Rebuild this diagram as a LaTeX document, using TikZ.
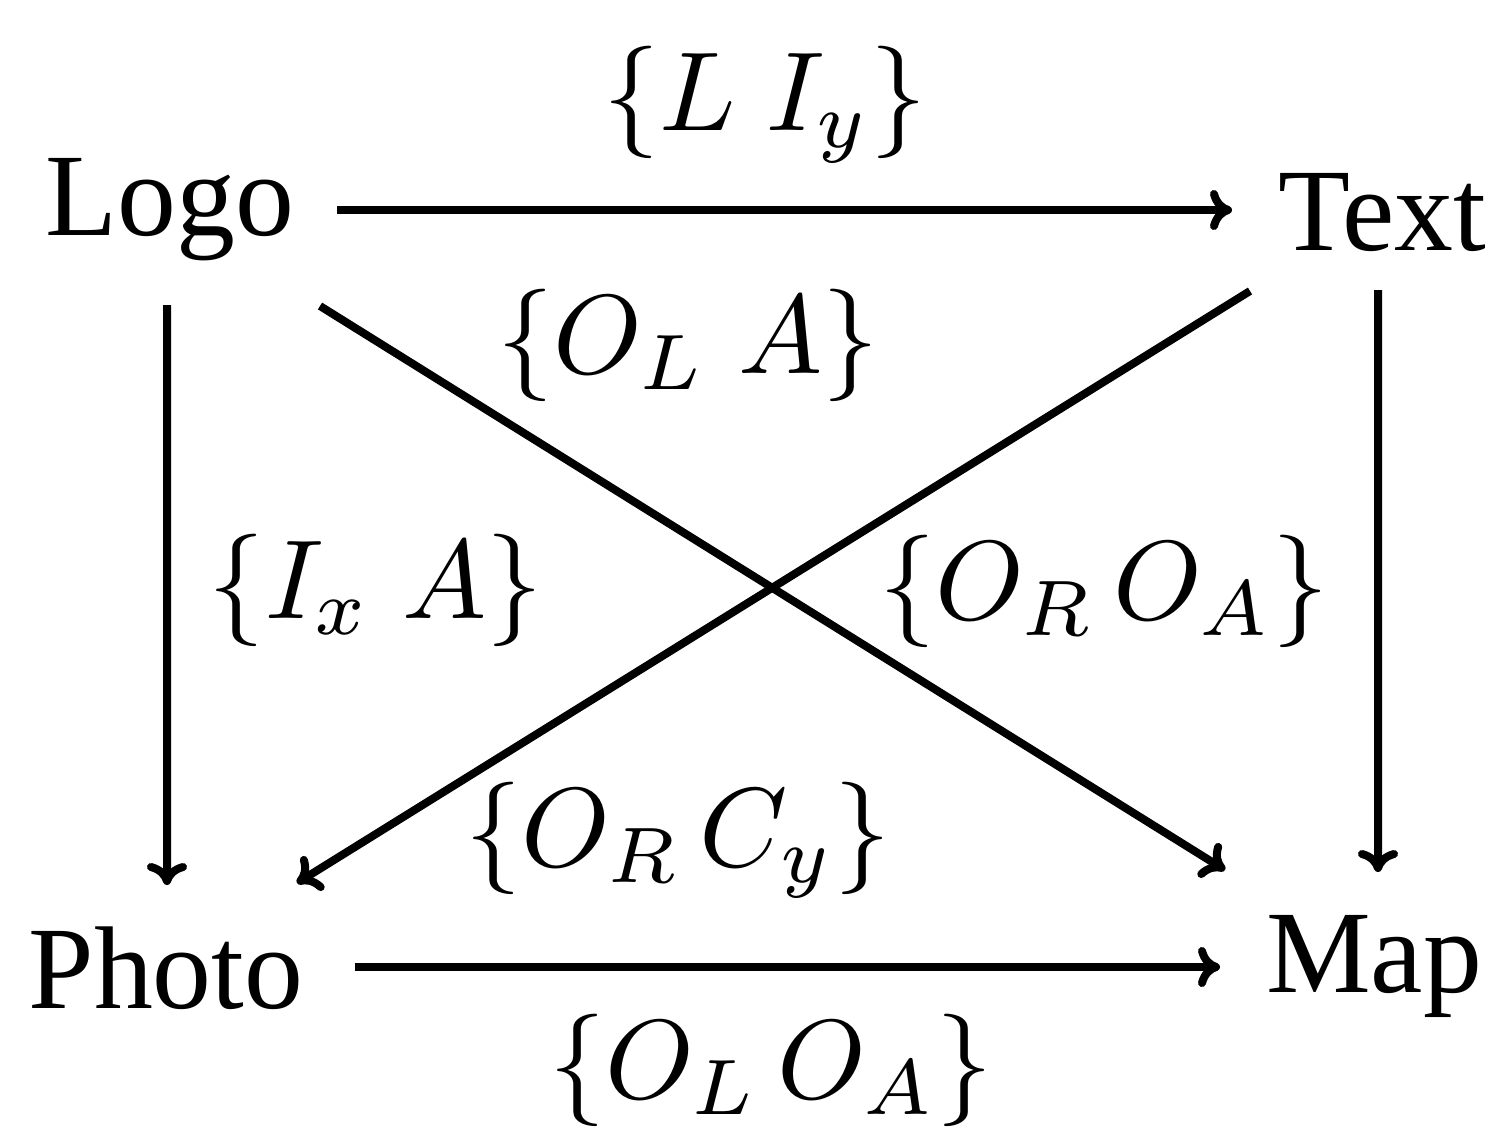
\documentclass[tikz,border=0pt]{standalone}
\usepackage[no-math]{fontspec}
\setmainfont{Liberation Serif}
\usetikzlibrary{arrows.meta}
\begin{document}
\begin{tikzpicture}[
  word/.style={inner sep=0pt, anchor=base, font=\fontsize{33.5}{40}\selectfont},
  lab/.style={inner sep=0pt, anchor=base, scale=3.2, font=\normalsize},
  arr/.style={line width=0.08cm, -{Computer Modern Rightarrow[length=0.22cm, width=0.40cm]}}
]
\useasboundingbox (0,0) rectangle (14.97,11.33);
\node[word] (logo)  at (1.70,8.98) {Logo};
\node[word] (text)  at (13.82,8.83) {Text};
\node[word] (photo) at (1.66,1.25) {Photo};
\node[word] (map)   at (13.74,1.41) {Map};

\draw[arr] ([shift={(1.67,0.25)}]logo.base) -- ([shift={(-1.50,0.40)}]text.base);
\draw[arr] ([shift={(-0.03,-0.70)}]logo.base) -- ([shift={(0.01,1.23)}]photo.base);
\draw[arr] ([shift={(-0.04,-0.40)}]text.base) -- ([shift={(0.04,1.20)}]map.base);
\draw[arr] ([shift={(1.89,0.41)}]photo.base) -- ([shift={(-1.54,0.25)}]map.base);
\draw[arr] ([shift={(1.50,-0.71)}]logo.base) -- ([shift={(-1.49,1.22)}]map.base);
\draw[arr] ([shift={(-1.32,-0.41)}]text.base) -- ([shift={(1.31,1.25)}]photo.base);

\node[lab] (l1) at (7.65,10.02) {$\{L\;I_y\}$};
\node[lab] (l2) at (6.88,7.60) {$\{O_L\;A\}$};
\node[lab] (l3) at (3.76,5.15) {$\{I_x\;A\}$};
\node[lab] (l4) at (11.04,5.14) {$\{O_R\,O_A\}$};
\node[lab] (l5) at (6.78,2.67) {$\{O_R\,C_y\}$};
\node[lab] (l6) at (7.71,0.35) {$\{O_L\,O_A\}$};
\end{tikzpicture}
\end{document}
